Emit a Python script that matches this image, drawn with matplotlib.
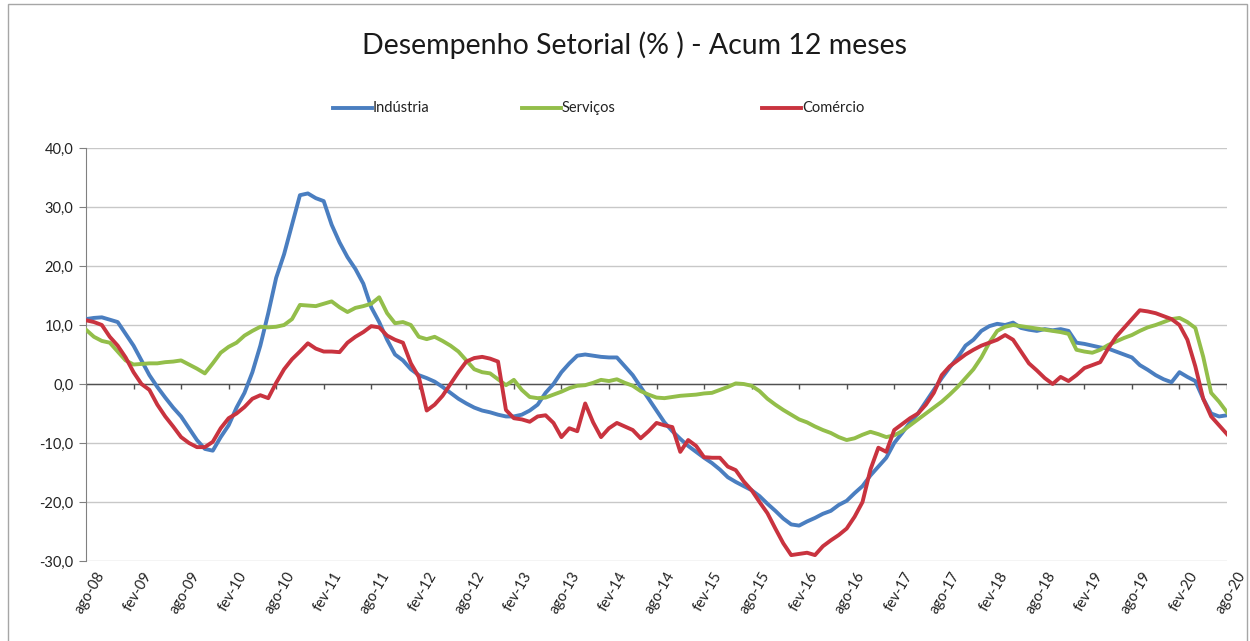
import matplotlib
matplotlib.use("Agg")
import matplotlib.pyplot as plt
from matplotlib.lines import Line2D
from matplotlib.patches import Rectangle
import matplotlib.transforms as mtransforms
import numpy as np

plt.rcParams['font.family'] = ['Lato', 'DejaVu Sans']

title = "Desempenho Setorial (% ) - Acum 12 meses"
series_names = ["Indústria", "Serviços", "Comércio"]

tick_labels = ["ago-08", "fev-09", "ago-09", "fev-10", "ago-10", "fev-11", "ago-11",
               "fev-12", "ago-12", "fev-13", "ago-13", "fev-14", "ago-14", "fev-15",
               "ago-15", "fev-16", "ago-16", "fev-17", "ago-17", "fev-18", "ago-18",
               "fev-19", "ago-19", "fev-20", "ago-20"]

industria = [
    11, 11.2, 11.3, 10.9, 10.5, 8.5, 6.5, 4, 1.5, -0.5, -2.3, -4, -5.5, -7.5, -9.5, -11, -11.3, -9, -7, -4,
    -1.5, 2, 6.5, 12, 18, 22, 27, 32, 32.3, 31.5, 31, 27, 24, 21.5, 19.5, 17, 13, 10.5, 7.5, 5,
    4, 2.5, 1.5, 1, 0.4, -0.5, -1.5, -2.5, -3.3, -4, -4.5, -4.8, -5.2, -5.5, -5.5, -5.2, -4.5, -3.5, -1.5, 0,
    2, 3.5, 4.8, 5, 4.8, 4.6, 4.5, 4.5, 3, 1.5, -0.5, -2.5, -4.5, -6.5, -8, -9.3, -10.5, -11.5, -12.5, -13.4,
    -14.5, -15.8, -16.6, -17.3, -18, -19, -20.3, -21.5, -22.8, -23.8, -24, -23.3, -22.7, -22, -21.5, -20.5, -19.8, -18.5, -17.3, -15.5,
    -14, -12.5, -10, -8.3, -6.5, -5, -3, -1, 1, 2.8, 4.5, 6.5, 7.5, 9, 9.8, 10.2, 10, 10.4, 9.5, 9.2,
    9, 9.3, 9.1, 9.3, 9, 7, 6.8, 6.5, 6.2, 6, 5.5, 5, 4.5, 3.2, 2.4, 1.5, 0.8, 0.3, 2, 1.2,
    0.5, -2.5, -5, -5.5, -5.3]

servicos = [
    9.2, 8, 7.3, 7, 5.5, 4, 3.3, 3.4, 3.5, 3.5, 3.7, 3.8, 4, 3.3, 2.6, 1.8, 3.5, 5.3, 6.3, 7,
    8.2, 9, 9.7, 9.6, 9.7, 10, 11, 13.4, 13.3, 13.2, 13.6, 14, 13, 12.2, 12.9, 13.2, 13.6, 14.7, 12, 10.3,
    10.5, 10, 8, 7.6, 8, 7.3, 6.5, 5.5, 4, 2.5, 2, 1.8, 0.8, -0.2, 0.7, -1, -2.2, -2.4, -2.3, -1.8,
    -1.3, -0.7, -0.3, -0.2, 0.2, 0.7, 0.5, 0.8, 0.2, -0.3, -1.2, -1.8, -2.3, -2.4, -2.2, -2, -1.9, -1.8, -1.6, -1.5,
    -1, -0.5, 0.1, 0, -0.3, -1.2, -2.5, -3.5, -4.4, -5.2, -6, -6.5, -7.2, -7.8, -8.3, -9, -9.5, -9.2, -8.6, -8.1,
    -8.5, -9, -8.7, -8, -7, -6, -5, -4, -3, -1.8, -0.5, 1, 2.5, 4.5, 7, 9, 9.7, 10, 9.8, 9.6,
    9.4, 9.2, 9, 8.8, 8.5, 5.8, 5.5, 5.3, 5.8, 6.6, 7.2, 7.8, 8.3, 9, 9.6, 10, 10.5, 11, 11.2, 10.5,
    9.5, 4.6, -1.5, -3, -4.8]

comercio = [
    10.8, 10.5, 10, 8, 6.5, 4.5, 2, 0, -1, -3.5, -5.5, -7.2, -9, -10, -10.7, -10.7, -9.8, -7.5, -5.8, -5,
    -3.9, -2.5, -1.9, -2.4, 0.2, 2.5, 4.2, 5.5, 6.9, 6, 5.5, 5.5, 5.4, 7, 8, 8.8, 9.8, 9.6, 8.2, 7.5,
    7, 3.5, 1.2, -4.5, -3.5, -2, 0, 2, 3.8, 4.4, 4.6, 4.3, 3.8, -4.4, -5.8, -6, -6.4, -5.5, -5.3, -6.6,
    -9, -7.5, -8, -3.3, -6.5, -9, -7.5, -6.6, -7.2, -7.8, -9.2, -8, -6.6, -7, -7.3, -11.5, -9.5, -10.5, -12.4, -12.5,
    -12.5, -14, -14.6, -16.5, -18, -20, -21.9, -24.5, -27, -29, -28.8, -28.6, -29, -27.5, -26.5, -25.6, -24.5, -22.5, -20, -14.5,
    -10.8, -11.5, -7.8, -6.8, -5.8, -5, -3.5, -1.5, 1.5, 3, 4, 5, 5.8, 6.5, 7, 7.5, 8.3, 7.5, 5.5, 3.5,
    2.3, 1, 0, 1.2, 0.5, 1.5, 2.7, 3.2, 3.7, 6, 8, 9.5, 11, 12.5, 12.3, 12, 11.5, 11, 10, 7.5,
    3, -2.5, -5.5, -7, -8.5]

colors = ['#4a7ec0', '#93be4a', '#c9333f']
W, H = 1250, 641
fig = plt.figure(figsize=(W / 100, H / 100), dpi=100)
fig.patch.set_facecolor('white')

# outer border
fig.add_artist(Rectangle((8 / W, -0.01), (1247 - 8) / W, 1 - 4 / H + 0.01,
                         transform=fig.transFigure, fill=False, edgecolor='#a6a6a6', lw=1))

left, right, top, bottom = 86, 1227, 148, 561
ax = fig.add_axes([left / W, 1 - bottom / H, (right - left) / W, (bottom - top) / H])

x = np.arange(len(industria))
for vals, c, name in zip([industria, servicos, comercio], colors, series_names):
    ax.plot(x, vals, color=c, lw=2.8, label=name, solid_joinstyle='round', zorder=3)

ax.set_xlim(0, len(industria) - 1)
ax.set_ylim(-30, 40)
yt = np.arange(-30, 41, 10)
ax.set_yticks(yt)
ax.set_yticklabels([f"{v:.1f}".replace('.', ',') for v in yt], fontsize=10.5, color='#222222')
ax.tick_params(axis='y', length=5, color='#808080', pad=4)
for v in yt:
    ax.axhline(v, color='#c8c8c8', lw=1, zorder=1)

for s in ['top', 'right', 'bottom']:
    ax.spines[s].set_visible(False)
ax.spines['left'].set_color('#808080')

# category axis at zero
ax.axhline(0, color='#505050', lw=1, zorder=2)
xt = np.arange(0, len(industria), 6)
ax.vlines(xt, -0.9, 0, color='#505050', lw=1, zorder=2)
ax.set_xticks(xt)
ax.set_xticklabels(tick_labels, rotation=60, ha='right', va='top', rotation_mode='anchor',
                   fontsize=10.5, color='#222222')
ax.tick_params(axis='x', length=0, pad=6)
offset = mtransforms.ScaledTranslation(9 / 100, 0, fig.dpi_scale_trans)
for lbl in ax.get_xticklabels():
    lbl.set_transform(lbl.get_transform() + offset)

fig.text(634 / W, 1 - 45 / H, title, ha='center', va='center', fontsize=20.5, color='#1a1a1a')

# legend
leg_x = [333, 522, 762]
for lx, c, name in zip(leg_x, colors, series_names):
    fig.add_artist(Line2D([lx / W, (lx + 39) / W], [1 - 108 / H, 1 - 108 / H],
                          transform=fig.transFigure, color=c, lw=2.8))
    fig.text((lx + 40) / W, 1 - 108 / H, name, ha='left', va='center', fontsize=10.5, color='#222222')

fig.savefig('out.png', dpi=100)
